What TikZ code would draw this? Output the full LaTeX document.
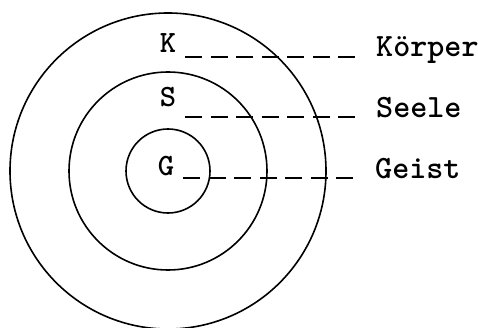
\documentclass[tikz,border=0pt]{standalone}
\usepackage{tikz}
\usetikzlibrary{positioning}

\begin{document}
\begin{tikzpicture}[x=1pt, y=1pt,
    ring/.style={draw, circle, line width=1.6pt, inner sep=0pt},
    letter/.style={font=\fontsize{31}{32}\selectfont\ttfamily\bfseries, inner sep=0pt, anchor=base},
    word/.style={font=\fontsize{32.5}{34}\selectfont\ttfamily\bfseries, inner sep=0pt, anchor=base west},
    leader/.style={line width=2.6pt, dash pattern=on 17pt off 8.5pt}]
    \useasboundingbox (0,0) rectangle (478,327);

    \node[ring, minimum size=316pt] (outer) at (168,156) {};
    \node[ring, minimum size=198pt] (middle) at (168,156) {};
    \node[ring, minimum size=84pt] (inner) at (168,156) {};

    \node[letter] (K) at (168,274) {K};
    \node[letter] (S) at (168,220) {S};
    \node[letter] (G) at (166,152) {G};

    \node[word] (koerper) at (376,270) {Körper};
    \node[word] (seele) at (376,210) {Seele};
    \node[word] (geist) at (375,149) {Geist};

    \coordinate (k0) at ([xshift=9pt]K.base east);
    \coordinate (s0) at ([xshift=9pt]S.base east);
    \coordinate (g0) at ([xshift=9pt]G.base east);
    \coordinate (k1) at ([xshift=-20pt]koerper.base west);
    \coordinate (s1) at ([xshift=-20pt]seele.base west);
    \coordinate (g1) at ([xshift=-20pt]geist.base west);

    \draw[leader] (k0 |- koerper.base) -- (k1);
    \draw[leader] (s0 |- seele.base) -- (s1);
    \draw[leader] (g0 |- geist.base) -- (g1);
\end{tikzpicture}
\end{document}
